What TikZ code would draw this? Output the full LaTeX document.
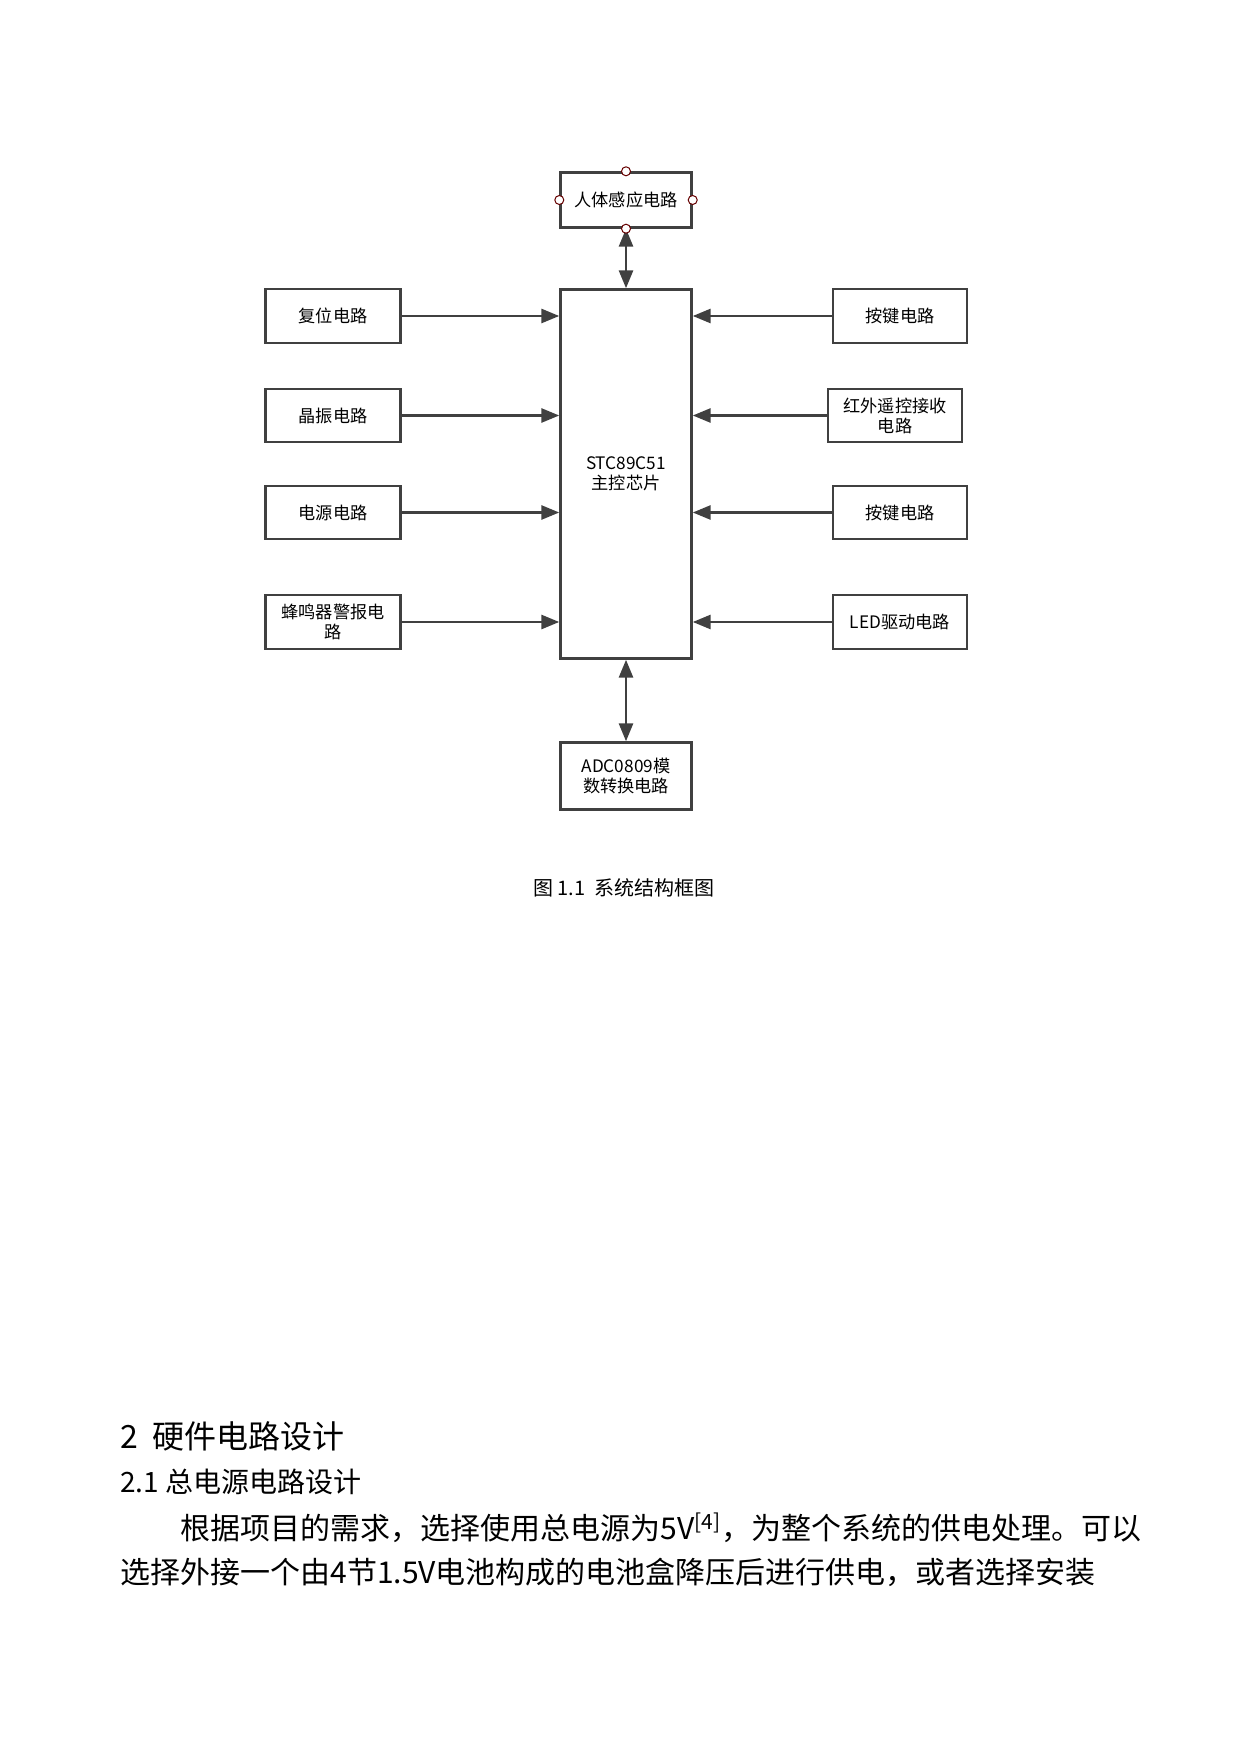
\documentclass[tikz,border=0pt]{standalone}
\usepackage{fontspec}
\setmainfont{Noto Sans CJK SC}
\usetikzlibrary{arrows.meta}
\begin{document}
\begin{tikzpicture}[x=0.5pt,y=-0.5pt,
    blk/.style={draw=black!75, line width=1.2pt, inner sep=0pt, font=\fontsize{8.6}{10}\selectfont, align=center},
    arr/.style={draw=black!75, line width=1.4pt, -{Triangle[length=9pt,width=7pt]}},
    darr/.style={arr, {Triangle[length=9pt,width=7pt]}-{Triangle[length=9pt,width=7pt]}},
    pin/.style={circle, draw=red!40!black, fill=white, inner sep=0pt, minimum size=4.5pt, line width=0.5pt}]
    \useasboundingbox (0,0) rectangle (1240,1754);

    \node[blk, minimum width=65.5pt, minimum height=27.5pt] (top) at (626,200) {人体感应电路};
    \node[blk, minimum width=65.5pt, minimum height=184.5pt] (mcu) at (626,474) {STC89C51\\主控芯片};
    \node[blk, minimum width=65.5pt, minimum height=33.5pt] (adc) at (626,776) {ADC0809模\\数转换电路};

    \node[blk, minimum width=67.5pt, minimum height=27pt] (l1) at (333,316) {复位电路};
    \node[blk, minimum width=67.5pt, minimum height=26.5pt] (l2) at (333,415.5) {晶振电路};
    \node[blk, minimum width=67.5pt, minimum height=26.5pt] (l3) at (333,512.5) {电源电路};
    \node[blk, minimum width=67.5pt, minimum height=27pt] (l4) at (333,622) {蜂鸣器警报电\\路};

    \node[blk, minimum width=67pt, minimum height=27pt] (r1) at (900,316) {按键电路};
    \node[blk, minimum width=67pt, minimum height=26.5pt] (r2) at (895,415.5) {红外遥控接收\\电路};
    \node[blk, minimum width=67pt, minimum height=26.5pt] (r3) at (900,512.5) {按键电路};
    \node[blk, minimum width=67pt, minimum height=27pt] (r4) at (900,622) {LED驱动电路};

    % connectors
    \draw[darr] (top.south) -- (mcu.north);
    \draw[darr] (mcu.south) -- (adc.north);
    \foreach \i in {1,2,3,4} {
        \draw[arr] (l\i.east) -- (mcu.west |- l\i.east);
        \draw[arr] (r\i.west) -- (mcu.east |- r\i.west);
    }
    \foreach \s in {north,south,east,west}
        \node[pin] at (top.\s) {};

    \node[font=\fontsize{10}{12}\selectfont] (cap) at (624,888) {图 1.1\ \ 系统结构框图};

    \node[anchor=west, font=\fontsize{16}{19}\selectfont, inner sep=0pt] (h1) at (120,1436) {2\ \ 硬件电路设计};
    \node[anchor=west, font=\fontsize{14}{17}\selectfont, inner sep=0pt] (h2) at (120,1482) {2.1 总电源电路设计};
    \node[anchor=west, font=\fontsize{15}{18}\selectfont, inner sep=0pt] (p1) at (180,1528) {根据项目的需求，选择使用总电源为5V\textsuperscript{[4]}，为整个系统的供电处理。可以};
    \node[anchor=west, font=\fontsize{15}{18}\selectfont, inner sep=0pt] (p2) at (120,1572) {选择外接一个由4节1.5V电池构成的电池盒降压后进行供电，或者选择安装};
\end{tikzpicture}
\end{document}
